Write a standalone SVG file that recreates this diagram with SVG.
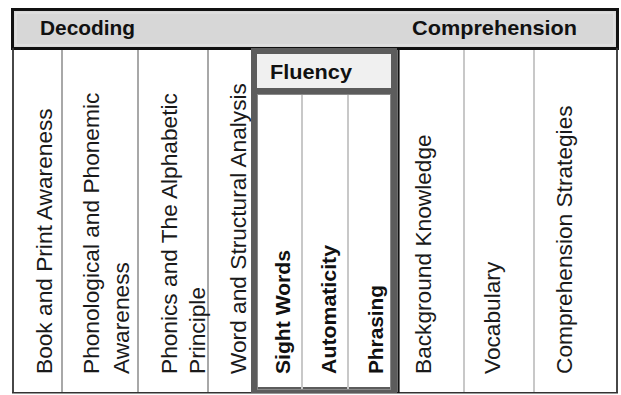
<svg xmlns="http://www.w3.org/2000/svg" width="621" height="395" viewBox="0 0 621 395">
<style>
.hd{font-family:"Liberation Sans",Arial,sans-serif;font-weight:bold;font-size:21px;fill:#111}
.fb{font-family:"Liberation Sans",Arial,sans-serif;font-weight:bold;font-size:20.5px;fill:#111}
.tx{font-family:"Liberation Sans",Arial,sans-serif;font-size:22.7px;fill:#1a1a1a}
.dv{stroke:#a8a8a8;stroke-width:2}
.dl{stroke:#c8c8c8;stroke-width:2}
</style>
<rect x="0" y="0" width="621" height="395" fill="#fff"/>
<g id="header">
<rect x="12.5" y="9.5" width="605" height="39" fill="#d7d7d7" stroke="#111" stroke-width="3"/>
<rect x="16" y="13" width="598" height="32" fill="none" stroke="#e6e6e6" stroke-width="1"/>
<text class="hd" x="40" y="35" textLength="95" lengthAdjust="spacingAndGlyphs">Decoding</text>
<text class="hd" x="412" y="35" textLength="165" lengthAdjust="spacingAndGlyphs">Comprehension</text>
</g>
<g id="frame">
<line x1="13" y1="48" x2="13" y2="393" stroke="#333" stroke-width="1.8"/>
<line x1="617" y1="48" x2="617" y2="393" stroke="#333" stroke-width="1.8"/>
<line x1="12" y1="392.8" x2="618" y2="392.8" stroke="#333" stroke-width="1.6"/>
</g>
<g id="decoding">
<line class="dv" x1="62" y1="50" x2="62" y2="392"/>
<line class="dv" x1="138" y1="50" x2="138" y2="392"/>
<line class="dv" x1="208" y1="50" x2="208" y2="392"/>
<g id="book"><text class="tx" transform="translate(52,374) rotate(-90)">Book and Print Awareness</text></g>
<g id="phonological"><text class="tx" transform="translate(99,374) rotate(-90)">Phonological and Phonemic</text>
<text class="tx" transform="translate(129,374) rotate(-90)">Awareness</text></g>
<g id="phonics"><text class="tx" transform="translate(177,374) rotate(-90)">Phonics and The Alphabetic</text>
<text class="tx" transform="translate(205,374) rotate(-90)">Principle</text></g>
<g id="word"><text class="tx" transform="translate(246,374) rotate(-90)">Word and Structural Analysis</text></g>
</g>
<g id="fluency">
<rect x="254" y="51" width="140" height="339" fill="#fff" stroke="#5c5c5c" stroke-width="6"/>
<rect x="257.5" y="54.5" width="133" height="335" fill="none" stroke="#8a8a8a" stroke-width="1"/>
<rect x="257" y="54" width="134" height="34" fill="#f0f0f0"/>
<rect x="251" y="88" width="146" height="6" fill="#5c5c5c"/>
<line x1="257" y1="94.5" x2="391" y2="94.5" stroke="#8a8a8a" stroke-width="1"/>
<line class="dl" x1="302" y1="95" x2="302" y2="389"/>
<line class="dl" x1="348" y1="95" x2="348" y2="389"/>
<text class="fb" x="270" y="79" textLength="82" lengthAdjust="spacingAndGlyphs">Fluency</text>
<g id="sight"><text class="fb" transform="translate(290,374) rotate(-90)" textLength="124" lengthAdjust="spacingAndGlyphs">Sight Words</text></g>
<g id="automaticity"><text class="fb" transform="translate(336,374) rotate(-90)" textLength="129" lengthAdjust="spacingAndGlyphs">Automaticity</text></g>
<g id="phrasing"><text class="fb" transform="translate(383,374) rotate(-90)" textLength="89" lengthAdjust="spacingAndGlyphs">Phrasing</text></g>
</g>
<g id="comprehension">
<line x1="398.5" y1="48" x2="398.5" y2="393" stroke="#111" stroke-width="2.2"/>
<line class="dl" x1="464" y1="50" x2="464" y2="392"/>
<line class="dl" x1="534" y1="50" x2="534" y2="392"/>
<g id="background"><text class="tx" transform="translate(431,374) rotate(-90)">Background Knowledge</text></g>
<g id="vocabulary"><text class="tx" transform="translate(500,374) rotate(-90)">Vocabulary</text></g>
<g id="strategies"><text class="tx" transform="translate(572,374) rotate(-90)">Comprehension Strategies</text></g>
</g>
</svg>
